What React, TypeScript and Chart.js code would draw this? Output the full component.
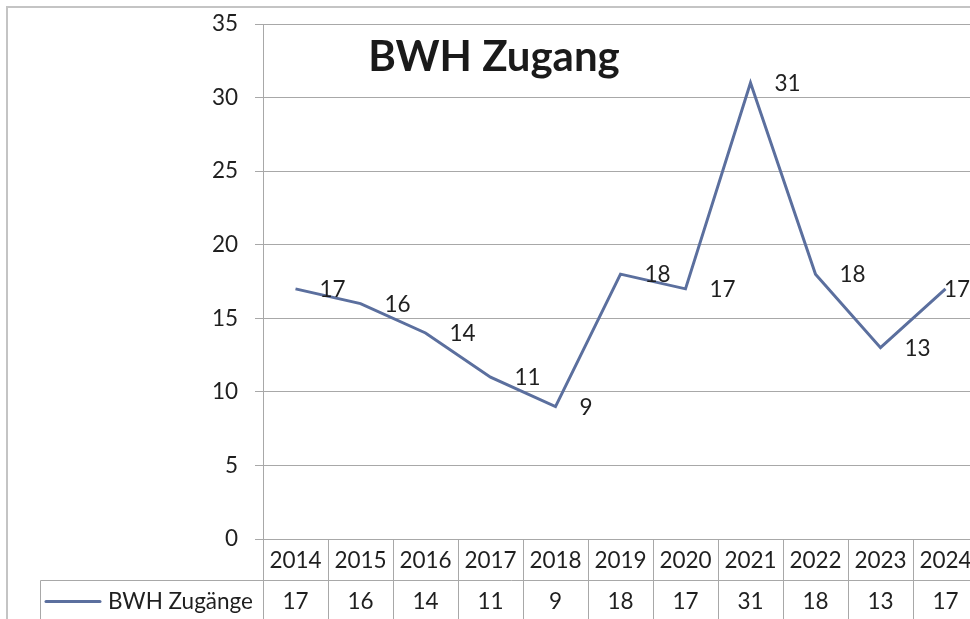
import React, { useEffect, useRef } from "react";
import { Chart, registerables } from "chart.js";

Chart.register(...registerables);

const categories = ["2014", "2015", "2016", "2017", "2018", "2019", "2020", "2021", "2022", "2023", "2024"];
const zugaenge = [17, 16, 14, 11, 9, 18, 17, 31, 18, 13, 17];
const seriesName = "BWH Zugänge";
const chartTitle = "BWH Zugang";
const yTicks = { min: 0, max: 35, step: 5 };

const LINE = "#5b6f9e";
const GRID = "#a8a8a8";
const TEXT = "#1f1f1f";
const FONT = "Lato, 'Open Sans', sans-serif";
const FS = 22.5;
const VIEW_W = 970;

const excelPlugin = {
  id: "excelExtras",
  afterDatasetsDraw(chart: any) {
    const ctx = chart.ctx;
    const meta = chart.getDatasetMeta(0);
    ctx.save();
    ctx.font = `${FS}px ${FONT}`;
    ctx.fillStyle = TEXT;
    ctx.textAlign = "left";
    ctx.textBaseline = "middle";
    meta.data.forEach((pt: any, i: number) => {
      const txt = String(zugaenge[i]);
      const w = ctx.measureText(txt).width;
      const x = Math.min(pt.x + 24, VIEW_W - w);
      ctx.fillText(txt, x, pt.y + 1);
    });
    ctx.restore();
  },
  afterDraw(chart: any) {
    const ctx = chart.ctx;
    const area = chart.chartArea;
    const xs = chart.scales.x;
    const colW = xs.getPixelForValue(1) - xs.getPixelForValue(0);
    const row1Top = area.bottom;
    const row1Bot = row1Top + 41;
    const row2Bot = row1Bot + 41;
    ctx.save();

    // outer frame
    ctx.strokeStyle = "#c4c4c4";
    ctx.lineWidth = 2;
    ctx.beginPath();
    ctx.moveTo(7, chart.height + 2);
    ctx.lineTo(7, 7);
    ctx.lineTo(chart.width + 2, 7);
    ctx.stroke();

    // title
    ctx.font = `bold 42px ${FONT}`;
    ctx.fillStyle = "#1a1a1a";
    ctx.textAlign = "center";
    ctx.textBaseline = "alphabetic";
    ctx.fillText(chartTitle, 494, 71);

    // data table grid
    ctx.strokeStyle = GRID;
    ctx.lineWidth = 1;
    ctx.beginPath();
    for (let i = 0; i <= categories.length; i++) {
      const bx = Math.round(xs.getPixelForValue(0) - colW / 2 + i * colW) + 0.5;
      ctx.moveTo(bx, row1Top);
      ctx.lineTo(bx, row2Bot);
    }
    ctx.moveTo(40.5, row1Bot + 0.5);
    ctx.lineTo(area.right + 5, row1Bot + 0.5);
    ctx.moveTo(40.5, row1Bot + 0.5);
    ctx.lineTo(40.5, row2Bot);
    ctx.moveTo(40.5, row2Bot + 0.5);
    ctx.lineTo(area.right + 5, row2Bot + 0.5);
    ctx.stroke();

    // table text
    ctx.font = `${FS}px ${FONT}`;
    ctx.fillStyle = TEXT;
    ctx.textAlign = "center";
    ctx.textBaseline = "middle";
    categories.forEach((c, i) => {
      const cx = xs.getPixelForValue(i);
      ctx.fillText(c, cx, (row1Top + row1Bot) / 2 + 1);
      ctx.fillText(String(zugaenge[i]), cx, (row1Bot + row2Bot) / 2 + 1);
    });

    // legend key
    const ly = (row1Bot + row2Bot) / 2 + 1;
    ctx.strokeStyle = LINE;
    ctx.lineWidth = 3;
    ctx.lineCap = "round";
    ctx.beginPath();
    ctx.moveTo(46, ly);
    ctx.lineTo(100, ly);
    ctx.stroke();
    ctx.textAlign = "right";
    ctx.fillText(seriesName, area.left - 10, ly);
    ctx.restore();
  },
};

export default function App() {
  const ref = useRef<HTMLCanvasElement>(null);
  useEffect(() => {
    if (!ref.current) return;
    const chart = new Chart(ref.current, {
      type: "line",
      data: {
        labels: categories,
        datasets: [
          {
            label: seriesName,
            data: zugaenge,
            borderColor: LINE,
            backgroundColor: LINE,
            borderWidth: 3,
            pointRadius: 0,
            tension: 0,
          },
        ],
      },
      options: {
        animation: false,
        responsive: false,
        layout: { padding: { top: 24, right: 22, bottom: 80, left: 0 } },
        plugins: { legend: { display: false }, title: { display: false }, tooltip: { enabled: false } },
        scales: {
          x: { display: false, offset: true },
          y: {
            min: yTicks.min,
            max: yTicks.max,
            ticks: { stepSize: yTicks.step, color: TEXT, font: { family: FONT, size: FS }, padding: 17 },
            grid: { color: GRID, lineWidth: 1, tickLength: 8 },
            border: { display: true, color: GRID, width: 1 },
            afterFit: (scale: any) => {
              scale.width = 263;
              scale.paddingTop = 0;
              scale.paddingBottom = 0;
            },
          },
        },
      },
      plugins: [excelPlugin],
    });
    return () => chart.destroy();
  }, []);
  return (
    <div style={{ position: "absolute", left: 0, top: 0, width: VIEW_W, height: 619, overflow: "hidden", background: "#fff" }}>
      <canvas ref={ref} width={1000} height={619} style={{ display: "block" }} />
    </div>
  );
}
